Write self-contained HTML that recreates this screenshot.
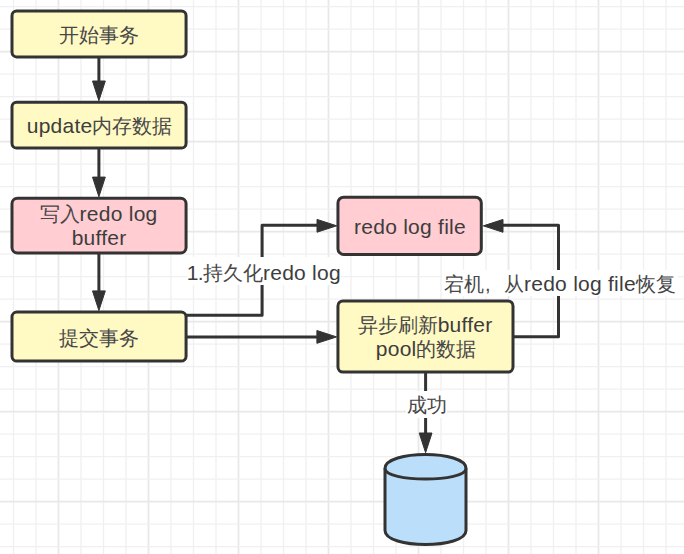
<!DOCTYPE html>
<html><head><meta charset="utf-8"><style>
html,body{margin:0;padding:0;background:#fff;}
body{width:684px;height:554px;position:relative;overflow:hidden;font-family:"Liberation Sans",sans-serif;color:#474747;}
svg{position:absolute;left:0;top:0;}
.t{position:absolute;white-space:nowrap;font-size:20px;line-height:24px;text-align:center;width:300px;}
.l{font-size:21px;letter-spacing:0.25px;color:#3d3d3d;}
.bg{position:absolute;background:#fff;}
</style></head><body>
<svg width="684" height="554" viewBox="0 0 684 554">
<line x1="13.5" y1="0" x2="13.5" y2="554" stroke="#f0f0f0" stroke-width="1.3"/>
<line x1="36.0" y1="0" x2="36.0" y2="554" stroke="#f0f0f0" stroke-width="1.3"/>
<line x1="58.5" y1="0" x2="58.5" y2="554" stroke="#e8e8e8" stroke-width="1.8"/>
<line x1="81.0" y1="0" x2="81.0" y2="554" stroke="#f0f0f0" stroke-width="1.3"/>
<line x1="103.5" y1="0" x2="103.5" y2="554" stroke="#f0f0f0" stroke-width="1.3"/>
<line x1="126.0" y1="0" x2="126.0" y2="554" stroke="#f0f0f0" stroke-width="1.3"/>
<line x1="148.5" y1="0" x2="148.5" y2="554" stroke="#e8e8e8" stroke-width="1.8"/>
<line x1="171.0" y1="0" x2="171.0" y2="554" stroke="#f0f0f0" stroke-width="1.3"/>
<line x1="193.5" y1="0" x2="193.5" y2="554" stroke="#f0f0f0" stroke-width="1.3"/>
<line x1="216.0" y1="0" x2="216.0" y2="554" stroke="#f0f0f0" stroke-width="1.3"/>
<line x1="238.5" y1="0" x2="238.5" y2="554" stroke="#e8e8e8" stroke-width="1.8"/>
<line x1="261.0" y1="0" x2="261.0" y2="554" stroke="#f0f0f0" stroke-width="1.3"/>
<line x1="283.5" y1="0" x2="283.5" y2="554" stroke="#f0f0f0" stroke-width="1.3"/>
<line x1="306.0" y1="0" x2="306.0" y2="554" stroke="#f0f0f0" stroke-width="1.3"/>
<line x1="328.5" y1="0" x2="328.5" y2="554" stroke="#e8e8e8" stroke-width="1.8"/>
<line x1="351.0" y1="0" x2="351.0" y2="554" stroke="#f0f0f0" stroke-width="1.3"/>
<line x1="373.5" y1="0" x2="373.5" y2="554" stroke="#f0f0f0" stroke-width="1.3"/>
<line x1="396.0" y1="0" x2="396.0" y2="554" stroke="#f0f0f0" stroke-width="1.3"/>
<line x1="418.5" y1="0" x2="418.5" y2="554" stroke="#e8e8e8" stroke-width="1.8"/>
<line x1="441.0" y1="0" x2="441.0" y2="554" stroke="#f0f0f0" stroke-width="1.3"/>
<line x1="463.5" y1="0" x2="463.5" y2="554" stroke="#f0f0f0" stroke-width="1.3"/>
<line x1="486.0" y1="0" x2="486.0" y2="554" stroke="#f0f0f0" stroke-width="1.3"/>
<line x1="508.5" y1="0" x2="508.5" y2="554" stroke="#e8e8e8" stroke-width="1.8"/>
<line x1="531.0" y1="0" x2="531.0" y2="554" stroke="#f0f0f0" stroke-width="1.3"/>
<line x1="553.5" y1="0" x2="553.5" y2="554" stroke="#f0f0f0" stroke-width="1.3"/>
<line x1="576.0" y1="0" x2="576.0" y2="554" stroke="#f0f0f0" stroke-width="1.3"/>
<line x1="598.5" y1="0" x2="598.5" y2="554" stroke="#e8e8e8" stroke-width="1.8"/>
<line x1="621.0" y1="0" x2="621.0" y2="554" stroke="#f0f0f0" stroke-width="1.3"/>
<line x1="643.5" y1="0" x2="643.5" y2="554" stroke="#f0f0f0" stroke-width="1.3"/>
<line x1="666.0" y1="0" x2="666.0" y2="554" stroke="#f0f0f0" stroke-width="1.3"/>
<line x1="688.5" y1="0" x2="688.5" y2="554" stroke="#e8e8e8" stroke-width="1.8"/>
<line x1="0" y1="6.7" x2="684" y2="6.7" stroke="#f0f0f0" stroke-width="1.3"/>
<line x1="0" y1="29.2" x2="684" y2="29.2" stroke="#f0f0f0" stroke-width="1.3"/>
<line x1="0" y1="51.7" x2="684" y2="51.7" stroke="#e8e8e8" stroke-width="1.8"/>
<line x1="0" y1="74.2" x2="684" y2="74.2" stroke="#f0f0f0" stroke-width="1.3"/>
<line x1="0" y1="96.7" x2="684" y2="96.7" stroke="#f0f0f0" stroke-width="1.3"/>
<line x1="0" y1="119.2" x2="684" y2="119.2" stroke="#f0f0f0" stroke-width="1.3"/>
<line x1="0" y1="141.7" x2="684" y2="141.7" stroke="#e8e8e8" stroke-width="1.8"/>
<line x1="0" y1="164.2" x2="684" y2="164.2" stroke="#f0f0f0" stroke-width="1.3"/>
<line x1="0" y1="186.7" x2="684" y2="186.7" stroke="#f0f0f0" stroke-width="1.3"/>
<line x1="0" y1="209.2" x2="684" y2="209.2" stroke="#f0f0f0" stroke-width="1.3"/>
<line x1="0" y1="231.7" x2="684" y2="231.7" stroke="#e8e8e8" stroke-width="1.8"/>
<line x1="0" y1="254.2" x2="684" y2="254.2" stroke="#f0f0f0" stroke-width="1.3"/>
<line x1="0" y1="276.7" x2="684" y2="276.7" stroke="#f0f0f0" stroke-width="1.3"/>
<line x1="0" y1="299.2" x2="684" y2="299.2" stroke="#f0f0f0" stroke-width="1.3"/>
<line x1="0" y1="321.7" x2="684" y2="321.7" stroke="#e8e8e8" stroke-width="1.8"/>
<line x1="0" y1="344.2" x2="684" y2="344.2" stroke="#f0f0f0" stroke-width="1.3"/>
<line x1="0" y1="366.7" x2="684" y2="366.7" stroke="#f0f0f0" stroke-width="1.3"/>
<line x1="0" y1="389.2" x2="684" y2="389.2" stroke="#f0f0f0" stroke-width="1.3"/>
<line x1="0" y1="411.7" x2="684" y2="411.7" stroke="#e8e8e8" stroke-width="1.8"/>
<line x1="0" y1="434.2" x2="684" y2="434.2" stroke="#f0f0f0" stroke-width="1.3"/>
<line x1="0" y1="456.7" x2="684" y2="456.7" stroke="#f0f0f0" stroke-width="1.3"/>
<line x1="0" y1="479.2" x2="684" y2="479.2" stroke="#f0f0f0" stroke-width="1.3"/>
<line x1="0" y1="501.7" x2="684" y2="501.7" stroke="#e8e8e8" stroke-width="1.8"/>
<line x1="0" y1="524.2" x2="684" y2="524.2" stroke="#f0f0f0" stroke-width="1.3"/>
<line x1="0" y1="546.7" x2="684" y2="546.7" stroke="#f0f0f0" stroke-width="1.3"/>
<rect x="12" y="11.05" width="174.07" height="45.849999999999994" rx="4.58" ry="4.58" fill="#fff9c4" stroke="#333333" stroke-width="3"/>
<rect x="12" y="102.2" width="174.07" height="45.8" rx="4.58" ry="4.58" fill="#fff9c4" stroke="#333333" stroke-width="3"/>
<rect x="12" y="198.3" width="174.07" height="54.79999999999998" rx="5.48" ry="5.48" fill="#ffcdd2" stroke="#333333" stroke-width="3"/>
<rect x="12" y="312.08" width="174.07" height="48.97000000000003" rx="4.90" ry="4.90" fill="#fff9c4" stroke="#333333" stroke-width="3"/>
<rect x="337.95" y="197.15" width="143.35000000000002" height="57.25" rx="5.73" ry="5.73" fill="#ffcdd2" stroke="#333333" stroke-width="3"/>
<rect x="337.95" y="300.9" width="175.05" height="71.20000000000005" rx="5.00" ry="5.00" fill="#fff9c4" stroke="#333333" stroke-width="3"/>
<path d="M385,468.5 C385,449.8333333333333 466,449.8333333333333 466,468.5 L466,530.5 C466,549.1666666666666 385,549.1666666666666 385,530.5 Z" fill="#bbdefb" stroke="#333333" stroke-width="3"/>
<path d="M385,468.5 C385,482.5 466,482.5 466,468.5" fill="none" stroke="#333333" stroke-width="3"/>
<path d="M98.9,57 L98.9,82" fill="none" stroke="#333333" stroke-width="3" stroke-linejoin="round"/>
<path d="M92.5,81.0 L105.30000000000001,81.0 L98.9,100.7 Z" fill="#333333" stroke="#333333" stroke-width="1" stroke-linejoin="miter"/>
<path d="M98.9,148 L98.9,178" fill="none" stroke="#333333" stroke-width="3" stroke-linejoin="round"/>
<path d="M92.5,177.10000000000002 L105.30000000000001,177.10000000000002 L98.9,196.8 Z" fill="#333333" stroke="#333333" stroke-width="1" stroke-linejoin="miter"/>
<path d="M98.9,253 L98.9,292" fill="none" stroke="#333333" stroke-width="3" stroke-linejoin="round"/>
<path d="M92.5,290.90000000000003 L105.30000000000001,290.90000000000003 L98.9,310.6 Z" fill="#333333" stroke="#333333" stroke-width="1" stroke-linejoin="miter"/>
<path d="M186,315.15 L262.1,315.15 L262.1,225.35 L318,225.35" fill="none" stroke="#333333" stroke-width="3" stroke-linejoin="round"/>
<path d="M317.0,219.4 L317.0,232.20000000000002 L336.7,225.8 Z" fill="#333333" stroke="#333333" stroke-width="1"/>
<path d="M186,336.9 L318,336.9" fill="none" stroke="#333333" stroke-width="3" stroke-linejoin="round"/>
<path d="M316.90000000000003,330.5 L316.90000000000003,343.29999999999995 L336.6,336.9 Z" fill="#333333" stroke="#333333" stroke-width="1"/>
<path d="M513,336.7 L558.5,336.7 L558.5,225.35 L503,225.35" fill="none" stroke="#333333" stroke-width="3" stroke-linejoin="round"/>
<path d="M503.0,219.45 L503.0,232.25 L483.3,225.85 Z" fill="#333333" stroke="#333333" stroke-width="1"/>
<path d="M425.6,372 L425.6,433" fill="none" stroke="#333333" stroke-width="3" stroke-linejoin="round"/>
<path d="M419.20000000000005,433.0 L432.0,433.0 L425.6,452.7 Z" fill="#333333" stroke="#333333" stroke-width="1" stroke-linejoin="miter"/>
</svg>
<div class="bg" style="left:187px;top:257px;width:154px;height:28px"></div>
<div class="bg" style="left:442px;top:269.5px;width:236px;height:26.5px"></div>
<div class="bg" style="left:406px;top:391px;width:41px;height:27px"></div>
<div class="t" style="left:-51.2px;top:22.5px">开始事务</div>
<div class="t" style="left:-50.4px;top:114px"><span class="l">update</span>内存数据</div>
<div class="t" style="left:-51.45px;top:201.6px">写入<span class="l">redo log</span></div>
<div class="t" style="left:-50.9px;top:225.6px"><span class="l">buffer</span></div>
<div class="t" style="left:-51.2px;top:325.6px">提交事务</div>
<div class="t" style="left:113.85px;top:261.2px"><span class="l" style="letter-spacing:-0.7px">1.</span>持久化<span class="l">redo log</span></div>
<div class="t" style="left:260px;top:215px"><span class="l">redo log file</span></div>
<div class="t" style="left:275.1px;top:312.5px">异步刷新<span class="l">buffer</span></div>
<div class="t" style="left:276.15px;top:337px"><span class="l">pool</span>的数据</div>
<div class="t" style="left:409.95px;top:272px">宕机<span style="display:inline-block;width:20px;text-align:left;text-indent:1px">,</span>从<span class="l">redo log file</span>恢复</div>
<div class="t" style="left:276.8px;top:393px">成功</div>
</body></html>
